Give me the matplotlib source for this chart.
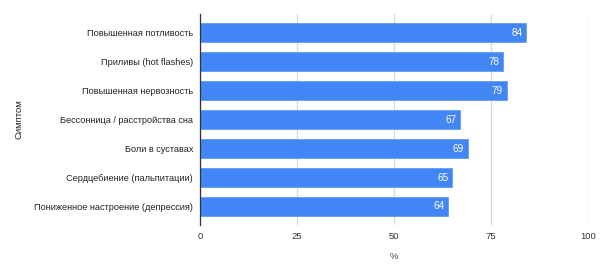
import matplotlib
matplotlib.use('Agg')
import matplotlib.pyplot as plt

plt.rcParams['font.family'] = ['Liberation Sans', 'DejaVu Sans']

symptoms = [
    'Повышенная потливость',
    'Приливы (hot flashes)',
    'Повышенная нервозность',
    'Бессонница / расстройства сна',
    'Боли в суставах',
    'Сердцебиение (пальпитации)',
    'Пониженное настроение (депрессия)',
]
percent = [84, 78, 79, 67, 69, 65, 64]
xticks = [0, 25, 50, 75, 100]

fig = plt.figure(figsize=(6.02, 2.76), dpi=100)
ax = fig.add_axes([200 / 602, 1 - 225 / 276, 388 / 602, 211 / 276])

y = list(range(len(symptoms)))
bars = ax.barh(y, percent, height=0.65, color='#4285F4', edgecolor='#5a95f5',
               linewidth=0.5, zorder=3)

for bar, v in zip(bars, percent):
    ax.text(bar.get_width() - 0.9, bar.get_y() + bar.get_height() / 2, str(v),
            ha='right', va='center', color='white', fontsize=7.2, zorder=4)

ax.set_xlim(0, 100)
ax.set_ylim(len(symptoms) - 1 + 0.64, -0.65)
ax.set_yticks(y)
ax.set_yticklabels(symptoms, fontsize=6.6, color='#222222')
ax.set_xticks(xticks)
ax.set_xticklabels([str(t) for t in xticks], fontsize=6.8, color='#333333')
ax.tick_params(axis='both', length=0, pad=5)
ax.tick_params(axis='x', pad=5)

ax.grid(axis='x', color='#d9d9d9', linewidth=0.9, zorder=0)
for s in ['top', 'right', 'bottom']:
    ax.spines[s].set_visible(False)
ax.spines['left'].set_color('#333333')
ax.spines['left'].set_linewidth(0.9)
ax.spines['left'].set_zorder(5)

ax.set_xlabel('%', fontsize=6.8, color='#444444', labelpad=8)
ax.set_ylabel('Симптом', fontsize=6.8, color='#222222')
ax.yaxis.set_label_coords(-176 / 388, 0.5)

fig.savefig('out.png', dpi=100)
